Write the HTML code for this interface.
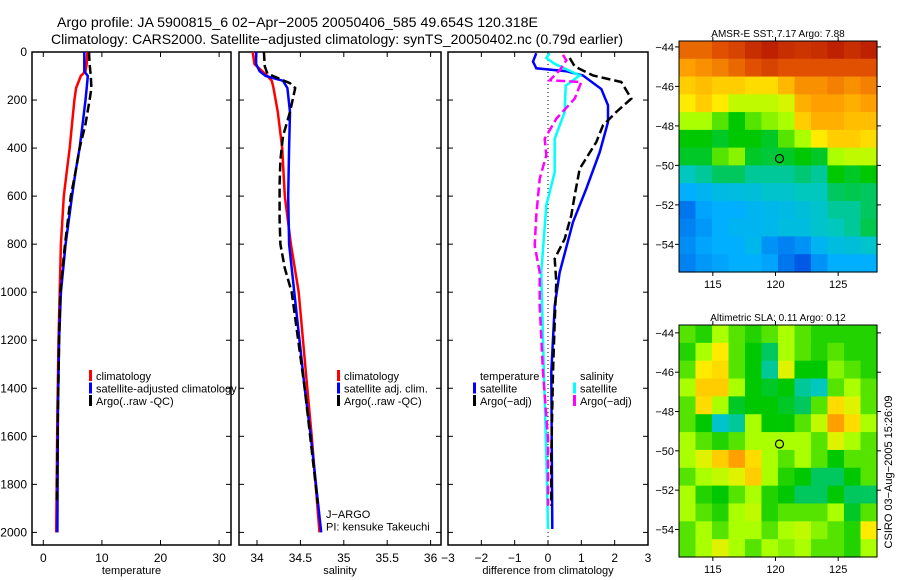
<!DOCTYPE html>
<html><head><meta charset="utf-8"><style>
body{margin:0;background:#fff;}
svg{display:block;font-family:"Liberation Sans",sans-serif;}
</style></head><body>
<svg id="c" width="900" height="580" viewBox="0 0 900 580">
<text x="57" y="27" font-size="14" textLength="481" lengthAdjust="spacingAndGlyphs">Argo profile: JA 5900815_6 02−Apr−2005 20050406_585 49.654S 120.318E</text>
<text x="51" y="44" font-size="14" textLength="572" lengthAdjust="spacingAndGlyphs">Climatology: CARS2000. Satellite−adjusted climatology: synTS_20050402.nc (0.79d earlier)</text>
<g id="g"></g>
</svg>
<script>
// ---- data ----
const depthT = [0,50,80,100,150,200,300,400,500,600,800,1000,1200,1500,2000];
const tempClim = [7.5,7.4,7.2,6.4,5.6,5.3,4.9,4.5,4.0,3.5,3.0,2.8,2.6,2.4,2.2];
const tempSat = [7.0,7.0,7.0,7.6,7.4,7.2,6.7,6.2,5.5,4.9,3.8,3.0,2.7,2.5,2.4];
const depthTA = [0,50,100,150,200,300,400,500,600,800,1000,1200,1500,1880];
const tempArgo = [7.8,7.9,8.1,8.2,7.9,7.2,6.2,5.5,4.7,3.7,2.9,2.7,2.5,2.3];

const depthS = [0,50,80,100,120,150,250,400,600,800,1000,1200,1400,1600,2000];
const salClim = [33.95,33.97,34.06,34.12,34.17,34.19,34.24,34.29,34.32,34.39,34.48,34.53,34.58,34.63,34.72];
const salSat = [33.99,33.99,34.03,34.10,34.30,34.35,34.38,34.37,34.36,34.37,34.43,34.49,34.55,34.62,34.74];
const depthSA = [0,60,90,130,150,250,350,450,550,700,800,900,1000,1400,1880];
const salArgo = [34.08,34.09,34.12,34.38,34.44,34.38,34.30,34.27,34.26,34.26,34.27,34.32,34.40,34.55,34.70];

const depthDT = [5,40,68,80,98,154,222,292,417,569,708,917,1056,1333,1986];
const diffTSat = [-0.35,-0.45,-0.35,0.55,1.05,1.6,1.8,1.8,1.55,1.15,0.75,0.35,0.2,0.1,0.13];
const depthDTA = [25,60,98,125,194,250,305,375,486,597,680,778,861,958,1125,1333,1680,1889];
const diffTArgo = [0.65,0.8,1.35,2.2,2.5,2.05,1.65,1.45,0.95,0.8,0.7,0.5,0.2,0.25,0.2,0.15,0.1,0.1];
const depthDS = [5,25,49,85,98,140,250,361,500,639,917,1194,1680,1986];
const diffSSat = [0.05,-0.05,0.2,0.75,0.95,0.53,0.5,0.2,0.2,-0.05,-0.2,-0.15,-0.05,0];
const depthDSA = [12,35,76,118,125,194,278,361,430,528,680,806,917,1056,1333,1611,1889];
const diffSArgo = [0.45,0.55,0.35,0.05,1.0,0.8,0.25,-0.1,-0.05,-0.25,-0.35,-0.4,-0.25,-0.25,-0.15,0,0];

const depthTicks = [0,200,400,600,800,1000,1200,1400,1600,1800,2000];
const tTicks = [0,10,20,30];
const sTicks = [34,34.5,35,35.5,36];
const dTicks = [-3,-2,-1,0,1,2,3];
const latTicks = [-44,-46,-48,-50,-52,-54];
const lonTicks = [115,120,125];

const sstGrid = [
[0.85,0.85,0.88,0.9,0.93,0.95,0.93,0.92,0.93,0.95,0.93,0.95],
[0.78,0.8,0.82,0.85,0.88,0.9,0.88,0.88,0.88,0.88,0.88,0.88],
[0.72,0.74,0.72,0.72,0.7,0.7,0.75,0.8,0.8,0.82,0.8,0.82],
[0.68,0.72,0.68,0.62,0.62,0.62,0.64,0.76,0.78,0.78,0.76,0.78],
[0.6,0.6,0.55,0.5,0.55,0.58,0.6,0.72,0.76,0.76,0.74,0.74],
[0.5,0.5,0.48,0.5,0.5,0.48,0.55,0.6,0.68,0.72,0.72,0.7],
[0.48,0.48,0.55,0.58,0.48,0.47,0.48,0.5,0.48,0.6,0.62,0.62],
[0.4,0.42,0.45,0.45,0.42,0.42,0.42,0.44,0.42,0.5,0.48,0.5],
[0.3,0.32,0.34,0.35,0.36,0.38,0.38,0.4,0.4,0.45,0.46,0.45],
[0.2,0.28,0.3,0.3,0.32,0.33,0.34,0.36,0.38,0.42,0.42,0.45],
[0.22,0.26,0.3,0.32,0.32,0.33,0.35,0.35,0.38,0.4,0.42,0.46],
[0.24,0.28,0.3,0.3,0.33,0.25,0.22,0.25,0.32,0.35,0.36,0.38],
[0.22,0.26,0.28,0.3,0.3,0.28,0.2,0.15,0.25,0.3,0.3,0.3]];
const slaGrid = [
[.55,.52,.6,.55,.52,.55,.6,.55,.52,.52,.52,.52],
[.52,.6,.68,.55,.5,.45,.6,.55,.52,.55,.52,.52],
[.55,.68,.7,.55,.5,.42,.65,.5,.5,.58,.55,.52],
[.6,.72,.72,.6,.5,.48,.5,.42,.4,.55,.6,.55],
[.55,.7,.6,.48,.5,.5,.48,.45,.55,.7,.65,.55],
[.55,.5,.38,.42,.6,.5,.5,.55,.62,.78,.7,.6],
[.6,.55,.52,.55,.6,.6,.6,.6,.55,.65,.6,.55],
[.6,.65,.72,.78,.7,.6,.55,.6,.55,.5,.55,.55],
[.55,.6,.62,.65,.72,.6,.52,.5,.45,.45,.5,.55],
[.6,.52,.5,.55,.6,.52,.5,.45,.45,.5,.45,.45],
[.6,.55,.52,.6,.62,.52,.55,.55,.55,.6,.48,.55],
[.55,.6,.55,.6,.6,.55,.6,.62,.58,.55,.52,.68],
[.55,.6,.65,.6,.55,.6,.58,.6,.55,.55,.52,.6]];
const argoLon = [120.318];
const argoLat = [-49.654];

// ---- drawing ----
const NS='http://www.w3.org/2000/svg';
const G=document.getElementById('g');
function mk(tag,at,parent){const e=document.createElementNS(NS,tag);for(const k in at)e.setAttribute(k,at[k]);(parent||G).appendChild(e);return e;}
const yD = d => 52 + d*0.2402;
const PT={x0:32,x1:231,fx:v=>43.3+v*5.86};
const PS={x0:239,x1:441,fx:v=>257+(v-34)*86.8};
const PD={x0:448,x1:648,fx:v=>548+v*33.33};
const Y0=52,Y1=545;

function frame(p,ticks,fmt,name,xlabel){
  const r=mk('rect',{x:p.x0,y:Y0,width:p.x1-p.x0,height:Y1-Y0,fill:'none',stroke:'#000','stroke-width':1.5});
  
  
  ticks.forEach(t=>{const x=p.fx(t);
    mk('line',{x1:x,x2:x,y1:Y1,y2:Y1-5,stroke:'#000'});mk('line',{x1:x,x2:x,y1:Y0,y2:Y0+5,stroke:'#000'});
    const tx=mk('text',{x:x,y:Y1+17,'font-size':12,'text-anchor':'middle'});tx.textContent=fmt(t);
    
    });
  depthTicks.forEach(d=>{const y=yD(d);
    mk('line',{x1:p.x0,x2:p.x0+5,y1:y,y2:y,stroke:'#000'});mk('line',{x1:p.x1,x2:p.x1-5,y1:y,y2:y,stroke:'#000'});});
  const xl=mk('text',{x:(p.x0+p.x1)/2,y:Y1+29,'font-size':11,'text-anchor':'middle'});xl.textContent=xlabel;
  
  
}
depthTicks.forEach(d=>{const t=mk('text',{x:27,y:yD(d)+4,'font-size':12,'text-anchor':'end'});t.textContent=d;
  
  });
frame(PT,tTicks,v=>v,'temperature-panel','temperature');
frame(PS,sTicks,v=>v,'salinity-panel','salinity');
frame(PD,dTicks,v=>v<0?'−'+(-v):v,'difference-panel','difference from climatology');
mk('line',{x1:PD.fx(0),x2:PD.fx(0),y1:Y0,y2:Y1,stroke:'#000','stroke-dasharray':'1,3'});

function line(p,xs,ds,col,w,dash,name){
  const pts=xs.map((v,i)=>p.fx(v).toFixed(1)+','+yD(ds[i]).toFixed(1)).join(' ');
  const e=mk('polyline',{points:pts,fill:'none',stroke:col,'stroke-width':w,'stroke-dasharray':dash||'none'});
  
  
}
line(PT,tempClim,depthT,'#f00',2.5,null,'temp-climatology-line');
line(PT,tempSat,depthT,'#00f',2.5,null,'temp-satellite-line');
line(PT,tempArgo,depthTA,'#000',2.5,'9,4','temp-argo-line');
line(PS,salClim,depthS,'#f00',2.5,null,'sal-climatology-line');
line(PS,salSat,depthS,'#00f',2.5,null,'sal-satellite-line');
line(PS,salArgo,depthSA,'#000',2.5,'9,4','sal-argo-line');
line(PD,diffTSat,depthDT,'#00f',2.5,null,'diff-temp-satellite-line');
line(PD,diffTArgo,depthDTA,'#000',2.5,'9,4','diff-temp-argo-line');
line(PD,diffSSat,depthDS,'#0ff',2.5,null,'diff-sal-satellite-line');
line(PD,diffSArgo,depthDSA,'#f0f',2.5,'9,4','diff-sal-argo-line');

function legend(x,y,items){items.forEach((it,i)=>{
  const yy=y+i*12.5;
  if(it[1]){const m=mk('rect',{x:x,y:yy-10,width:3,height:11,fill:it[1]});
    
    }
  const t=mk('text',{x:x+7,y:yy,'font-size':11});t.textContent=it[0];
  
  });}
legend(89,380,[['climatology','#f00'],['satellite-adjusted climatology','#00f'],['Argo(..raw -QC)','#000']]);
legend(337,380,[['climatology','#f00'],['satellite adj. clim.','#00f'],['Argo(..raw -QC)','#000']]);
legend(473,380,[['temperature',null],['satellite','#00f'],['Argo(−adj)','#000']]);
legend(573,380,[['salinity',null],['satellite','#0ff'],['Argo(−adj)','#f0f']]);
legend(319,518,[['J−ARGO',null],['PI: kensuke Takeuchi',null]]);

// maps
const cmStops=[[0,0,0,170],[0.15,0,90,230],[0.3,0,175,255],[0.4,0,200,190],[0.5,0,200,0],[0.6,170,255,0],[0.68,255,235,0],[0.78,255,160,0],[0.88,225,80,0],[1,165,0,0]];
function jet(v){v=Math.max(0,Math.min(1,v));
  for(let i=1;i<cmStops.length;i++){const a=cmStops[i-1],b=cmStops[i];
    if(v<=b[0]){const f=(v-a[0])/(b[0]-a[0]);
      return 'rgb('+[1,2,3].map(k=>Math.round(a[k]+(b[k]-a[k])*f)).join(',')+')';}}
  return 'rgb(165,0,0)';}
function map(grid,x0,y0,x1,y1,latTop,latBot,title,name){
  const lonL=112.3,lonR=128.1;
  const fx=l=>x0+(l-lonL)/(lonR-lonL)*(x1-x0), fy=a=>y0+(latTop-a)/(latTop-latBot)*(y1-y0);
  const nr=grid.length,nc=grid[0].length,cw=(x1-x0)/nc,ch=(y1-y0)/nr;
  grid.forEach((row,i)=>row.forEach((v,j)=>{
    const c=mk('rect',{x:x0+j*cw,y:y0+i*ch,width:cw+0.6,height:ch+0.6,fill:jet(v)});
    
    }));
  const f=mk('rect',{x:x0,y:y0,width:x1-x0,height:y1-y0,fill:'none',stroke:'#000','stroke-width':1});
  
  
  latTicks.forEach(a=>{const y=fy(a);mk('line',{x1:x0-4,x2:x0,y1:y,y2:y,stroke:'#000'});mk('line',{x1:x1,x2:x1+4,y1:y,y2:y,stroke:'#000'});
    const t=mk('text',{x:x0-5,y:y+4,'font-size':11,'text-anchor':'end'});t.textContent='−'+(-a);
    
    });
  lonTicks.forEach(l=>{const x=fx(l);mk('line',{x1:x,x2:x,y1:y1,y2:y1+4,stroke:'#000'});mk('line',{x1:x,x2:x,y1:y0-4,y2:y0,stroke:'#000'});
    const t=mk('text',{x:x,y:y1+16,'font-size':11,'text-anchor':'middle'});t.textContent=l;
    
    });
  const c=mk('circle',{cx:fx(argoLon[0]),cy:fy(argoLat[0]),r:4,fill:'none',stroke:'#000','stroke-width':1.2});
  
  
  const t=mk('text',{x:(x0+x1)/2,y:y0-4,'font-size':10,'text-anchor':'middle'});t.textContent=title;
  
  
}
map(sstGrid,679,41,877,272,-43.7,-55.4,'AMSR-E SST: 7.17 Argo: 7.88','sst-map');
map(slaGrid,679,325,877,557,-43.6,-55.4,'Altimetric SLA: 0.11 Argo: 0.12','sla-map');
const st=mk('text',{x:0,y:0,'font-size':11,'text-anchor':'middle',transform:'translate(892,472) rotate(-90)'});
st.textContent='CSIRO 03−Aug−2005 15:26:09';


</script>
</body></html>
